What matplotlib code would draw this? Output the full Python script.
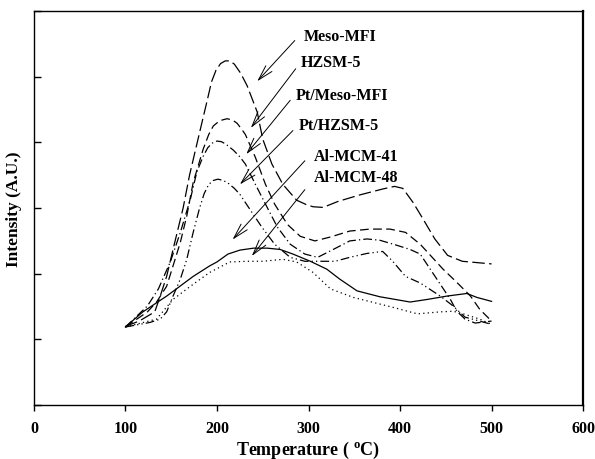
import matplotlib

matplotlib.use("Agg")
import matplotlib.pyplot as plt

plt.rcParams.update({
    "font.family": "Liberation Serif",
    "font.weight": "bold",
    "mathtext.fontset": "custom",
    "mathtext.rm": "Liberation Serif:bold",
    "mathtext.bf": "Liberation Serif:bold",
})

# ---- data (temperature in C, intensity in a.u.) ----
meso_t = [100, 115, 132, 138, 145, 152, 163, 170, 181, 189, 194, 199, 204, 209, 214,
          219, 226, 233, 244, 250, 260, 272, 287, 298, 305, 316, 332, 356, 381, 394,
          403, 414, 424, 438, 452, 468, 500]
meso_v = [1.20, 1.28, 1.42, 1.66, 1.96, 2.37, 3.00, 3.50, 4.15, 4.62, 4.92, 5.10, 5.20,
          5.24, 5.24, 5.19, 5.05, 4.86, 4.46, 4.05, 3.67, 3.36, 3.12, 3.05, 3.02, 3.01,
          3.10, 3.20, 3.29, 3.33, 3.30, 3.09, 2.86, 2.53, 2.28, 2.19, 2.15]

hzsm_t = [100, 124, 134, 145, 152, 160, 167, 174, 185, 191, 196, 203, 211, 217, 222,
          227, 231, 242, 253, 263, 277, 291, 307, 324, 345, 367, 389, 406, 422, 447,
          462, 477, 487, 500]
hzsm_v = [1.19, 1.42, 1.57, 1.81, 2.12, 2.48, 2.88, 3.39, 3.90, 4.12, 4.25, 4.33, 4.36,
          4.34, 4.29, 4.20, 4.12, 3.77, 3.36, 3.06, 2.75, 2.57, 2.50, 2.56, 2.65, 2.68,
          2.68, 2.63, 2.45, 2.07, 1.87, 1.66, 1.46, 1.28]

ptmeso_t = [100, 124, 136, 149, 160, 171, 178, 185, 190, 195, 200, 205, 210, 218, 225,
            231, 242, 253, 266, 280, 296, 310, 327, 345, 364, 378, 395, 411, 422, 433,
            444, 455, 462, 471, 482, 500]
ptmeso_v = [1.19, 1.51, 1.77, 2.18, 2.63, 3.14, 3.55, 3.79, 3.92, 3.99, 4.02, 4.01, 3.97,
            3.88, 3.78, 3.67, 3.36, 3.06, 2.71, 2.45, 2.30, 2.25, 2.37, 2.50, 2.53, 2.51,
            2.44, 2.37, 2.30, 2.07, 1.84, 1.61, 1.43, 1.31, 1.25, 1.28]

pthzsm_t = [100, 127, 138, 145, 152, 160, 167, 174, 181, 186, 191, 196, 201, 207, 213,
            219, 225, 236, 249, 263, 280, 296, 313, 329, 345, 364, 381, 392, 406, 422,
            444, 458, 471, 487, 500]
pthzsm_v = [1.19, 1.26, 1.31, 1.42, 1.66, 1.92, 2.22, 2.63, 3.00, 3.22, 3.36, 3.42, 3.44,
            3.42, 3.37, 3.30, 3.21, 2.98, 2.71, 2.45, 2.25, 2.19, 2.19, 2.19, 2.25, 2.31,
            2.34, 2.19, 1.96, 1.86, 1.66, 1.51, 1.34, 1.28, 1.23]

mcm41_t = [100, 119, 145, 174, 192, 200, 212, 225, 240, 255, 269, 283, 302, 320, 334,
           353, 378, 411, 430, 451, 473, 484, 500]
mcm41_v = [1.19, 1.42, 1.66, 1.96, 2.12, 2.18, 2.30, 2.36, 2.39, 2.39, 2.37, 2.30, 2.19,
           2.07, 1.92, 1.74, 1.65, 1.57, 1.61, 1.66, 1.70, 1.64, 1.58]

mcm48_t = [100, 134, 152, 171, 192, 214, 233, 250, 272, 287, 305, 324, 349, 392, 419,
           444, 458, 469, 487, 500]
mcm48_v = [1.19, 1.31, 1.61, 1.81, 2.02, 2.18, 2.19, 2.19, 2.22, 2.18, 2.02, 1.77, 1.64,
           1.49, 1.39, 1.42, 1.43, 1.39, 1.31, 1.23]

labels = ["Meso-MFI", "HZSM-5", "Pt/Meso-MFI", "Pt/HZSM-5", "Al-MCM-41", "Al-MCM-48"]
# label text anchor, arrow start and arrow tip (data coords)
label_xy = [(295, 5.62), (291, 5.22), (286, 4.72), (289, 4.26), (306, 3.79), (306, 3.47)]
line_start = [(285, 5.55), (286, 5.12), (280, 4.64), (283, 4.18), (296, 3.72), (296, 3.28)]
arrow_tip = [(244, 4.93), (237, 4.22), (232, 3.82), (225, 3.36), (217, 2.52), (238, 2.27)]

series = [(meso_t, meso_v), (hzsm_t, hzsm_v), (ptmeso_t, ptmeso_v),
          (pthzsm_t, pthzsm_v), (mcm41_t, mcm41_v), (mcm48_t, mcm48_v)]
styles = [(0, (10, 3.5)), (0, (7, 3.5)), (0, (7, 2.5, 1, 2.5)),
          (0, (7, 2.5, 1, 2.5, 1, 2.5)), "-", (0, (1, 2.6))]

fig = plt.figure(figsize=(5.95, 4.6), dpi=100)
ax = fig.add_axes([0.057, 0.117, 0.923, 0.857])

for (t, v), ls in zip(series, styles):
    ax.plot(t, v, color="black", lw=0.9, ls=ls, solid_joinstyle="round",
            dash_joinstyle="round")

for lab, txy, s, tip in zip(labels, label_xy, line_start, arrow_tip):
    ax.text(txy[0], txy[1], lab, ha="left", va="center", fontsize=11.5,
            fontweight="bold")
    ax.annotate("", xy=tip, xytext=s,
                arrowprops=dict(arrowstyle="->,head_length=1.1,head_width=0.3",
                                color="black", lw=0.7, shrinkA=0, shrinkB=0))

ax.set_xlim(0, 600)
ax.set_ylim(0, 6)
ax.set_xticks(range(0, 601, 100))
ax.set_yticks(range(0, 7))
ax.set_yticklabels([])
ax.tick_params(axis="x", direction="out", length=4, width=1, labelsize=11.5, pad=7)
ax.tick_params(axis="y", direction="in", length=5, width=1)
for lab in ax.get_xticklabels():
    lab.set_fontweight("bold")
for side in ["left", "bottom", "top"]:
    ax.spines[side].set_linewidth(1.0)
ax.spines["right"].set_linewidth(1.6)

ax.set_xlabel(r"Temperature ( $^{\mathrm{o}}$C)", fontsize=13, fontweight="bold",
              labelpad=2)
ax.set_ylabel("Intensity (A.U.)", fontsize=12.5, fontweight="bold", labelpad=5)

fig.savefig("out.png", dpi=100)
